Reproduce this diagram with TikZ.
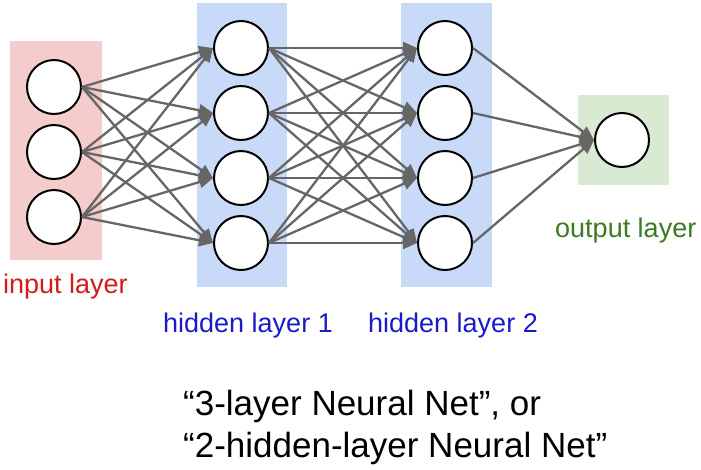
\documentclass[tikz,border=0pt]{standalone}
\usetikzlibrary{arrows.meta}
\usepackage{fontspec}
\setmainfont{Liberation Sans}
\usepackage{xcolor}
\definecolor{inputpink}{HTML}{F4CCCC}
\definecolor{hiddenblue}{HTML}{C9DAF8}
\definecolor{outputgreen}{HTML}{D9EAD3}
\definecolor{inputred}{HTML}{D01C1C}
\definecolor{hiddenink}{HTML}{1A1AC8}
\definecolor{outputink}{HTML}{3C7A22}
\definecolor{linkgray}{HTML}{666666}

\begin{document}
\begin{tikzpicture}[x=1pt, y=-1pt,
  neuron/.style={circle, draw=black, line width=2pt, fill=white, minimum size=54pt, inner sep=0pt},
  link/.style={draw=linkgray, line width=2.3pt, -{Triangle[length=14pt, width=12pt]}},
  layerlabel/.style={anchor=base west, inner sep=0pt, font=\fontsize{27}{32}\selectfont},
  captionline/.style={anchor=base west, inner sep=0pt, font=\fontsize{35}{42}\selectfont}]

  \useasboundingbox (0,0) rectangle (701,469);

  % ==================== 1. LAYER PANELS ====================
  \fill[inputpink] (10,41) rectangle (102,260);
  \fill[hiddenblue] (197,3) rectangle (287,287);
  \fill[hiddenblue] (401,3) rectangle (492,287);
  \fill[outputgreen] (578,95) rectangle (669,185);

  % ==================== 2. NEURONS ====================
  \foreach \i/\y in {1/87, 2/152, 3/217} {
    \node[neuron] (in\i) at (54,\y) {};
  }
  \foreach \i/\y in {1/48, 2/113, 3/178, 4/243} {
    \node[neuron] (ha\i) at (241,\y) {};
    \node[neuron] (hb\i) at (445,\y) {};
  }
  \node[neuron] (out) at (622,140) {};

  % ==================== 3. CONNECTIONS ====================
  % input -> hidden 1
  \foreach \i in {1,2,3} {
    \foreach \j in {1,2,3,4} {
      \draw[link] (in\i.east) -- (ha\j.west);
    }
  }
  % hidden 1 -> hidden 2
  \foreach \i in {1,2,3,4} {
    \foreach \j in {1,2,3,4} {
      \draw[link] (ha\i.east) -- (hb\j.west);
    }
  }
  % hidden 2 -> output
  \foreach \i in {1,2,3,4} {
    \draw[link] (hb\i.east) -- (out.west);
  }

  % ==================== 4. LABELS ====================
  \node[layerlabel, text=inputred] (inlabel) at (3,293) {input layer};
  \node[layerlabel, text=hiddenink] (halabel) at (163,332) {hidden layer 1};
  \node[layerlabel, text=hiddenink] (hblabel) at (368,332) {hidden layer 2};
  \node[layerlabel, text=outputink] (outlabel) at (555,237) {output layer};

  % Caption
  \node[captionline] (capA) at (183,415) {“3-layer Neural Net”, or};
  \node[captionline] (capB) at (183,457) {“2-hidden-layer Neural Net”};

\end{tikzpicture}
\end{document}
